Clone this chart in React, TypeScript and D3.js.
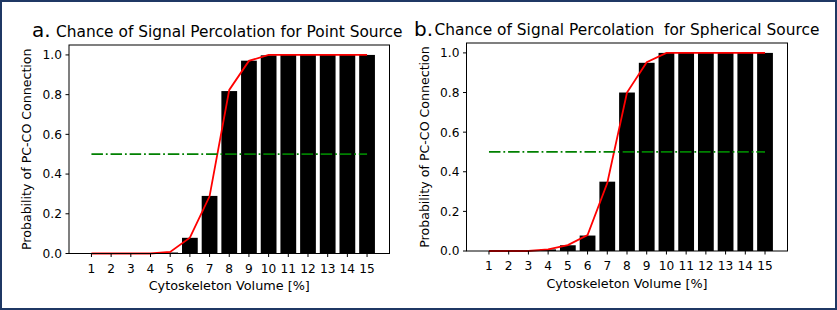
import React from 'react';
import * as d3 from 'd3';

// cytoskeleton volume categories (x axis)
const volumes = [1, 2, 3, 4, 5, 6, 7, 8, 9, 10, 11, 12, 13, 14, 15];

// panel a: point source
const pointBars = [0, 0, 0, 0, 0.005, 0.079, 0.29, 0.818, 0.971, 0.998, 1, 1, 1, 1, 1];
const pointFit = [0, 0, 0, 0, 0.008, 0.08, 0.288, 0.824, 0.97, 1, 1, 1, 1, 1, 1];

// panel b: spherical source
const sphereBars = [0, 0, 0, 0.008, 0.029, 0.078, 0.35, 0.8, 0.95, 1, 1, 1, 1, 1, 1];
const sphereFit = [0, 0, 0, 0.008, 0.03, 0.08, 0.343, 0.8, 0.953, 1, 1, 1, 1, 1, 1];

const threshold = 0.5;
const yTicks = [0, 0.2, 0.4, 0.6, 0.8, 1.0];

const FONT = 'DejaVu Sans, sans-serif';

type PanelProps = {
  letter: string;
  letterX: number;
  letterY: number;
  title: string;
  titleY: number;
  bars: number[];
  fit: number[];
  xRange: [number, number];
  yRange: [number, number];
};

const Panel = (p: PanelProps) => {
  const x = d3.scaleLinear().domain([-0.14, 16.14]).range(p.xRange);
  const y = d3.scaleLinear().domain([0, 1.05]).range(p.yRange);
  const bw = x(0.8) - x(0);
  const [x0, x1] = p.xRange;
  const [yb, yt] = p.yRange;
  const cx = (x0 + x1) / 2;
  const cy = (yb + yt) / 2;

  const line = d3.line<number>()
    .x((d, i) => x(volumes[i]))
    .y(d => y(d));

  return (
    <g fontFamily={FONT}>
      <text x={p.letterX} y={p.letterY} fontSize={20}>{p.letter}</text>
      <text x={cx} y={p.titleY} fontSize={15.4} textAnchor="middle" style={{whiteSpace: 'pre'}}>{p.title}</text>

      {p.bars.map((v, i) => (
        <rect key={i} x={x(volumes[i]) - bw / 2} y={y(v)} width={bw} height={y(0) - y(v)} fill="#000" />
      ))}

      <path d={line(p.fit) || ''} fill="none" stroke="#ff0000" strokeWidth={1.8} />
      <line x1={x(volumes[0])} x2={x(volumes[volumes.length - 1])} y1={y(threshold)} y2={y(threshold)}
        stroke="#008000" strokeWidth={1.8} strokeDasharray="11.5,2.9,1.8,2.9" />

      <rect x={x0} y={yt} width={x1 - x0} height={yb - yt} fill="none" stroke="#000" strokeWidth={1} />

      {yTicks.map(t => (
        <g key={t}>
          <line x1={x0 - 3.5} x2={x0} y1={y(t)} y2={y(t)} stroke="#000" strokeWidth={1} />
          <text x={x0 - 7} y={y(t)} dy="0.36em" fontSize={12.2} textAnchor="end">{t.toFixed(1)}</text>
        </g>
      ))}
      {volumes.map(v => (
        <g key={v}>
          <line x1={x(v)} x2={x(v)} y1={yb} y2={yb + 3.5} stroke="#000" strokeWidth={1} />
          <text x={x(v)} y={yb + 19} fontSize={12.2} textAnchor="middle">{v}</text>
        </g>
      ))}
      <text x={cx} y={yb + 36.5} fontSize={12.8} textAnchor="middle">Cytoskeleton Volume [%]</text>
      <text transform={`translate(${x0 - 38},${cy}) rotate(-90)`} fontSize={12.6} textAnchor="middle">Probability of PC-CO Connection</text>
    </g>
  );
};

export default function App() {
  return (
    <svg width={837} height={310} style={{position: 'absolute', left: 0, top: 0, background: '#fff'}}>
      <rect x={0} y={0} width={837} height={310} fill="#fff" />
      <Panel letter="a." letterX={32} letterY={37} title="Chance of Signal Percolation for Point Source" titleY={37}
        bars={pointBars} fit={pointFit} xRange={[69, 389.5]} yRange={[253.5, 45]} />
      <Panel letter="b." letterX={414} letterY={36} title="Chance of Signal Percolation  for Spherical Source" titleY={35}
        bars={sphereBars} fit={sphereFit} xRange={[466.5, 787.5]} yRange={[251, 43]} />
      <rect x={1} y={1} width={835} height={308} fill="none" stroke="#1f3864" strokeWidth={2} />
    </svg>
  );
}
